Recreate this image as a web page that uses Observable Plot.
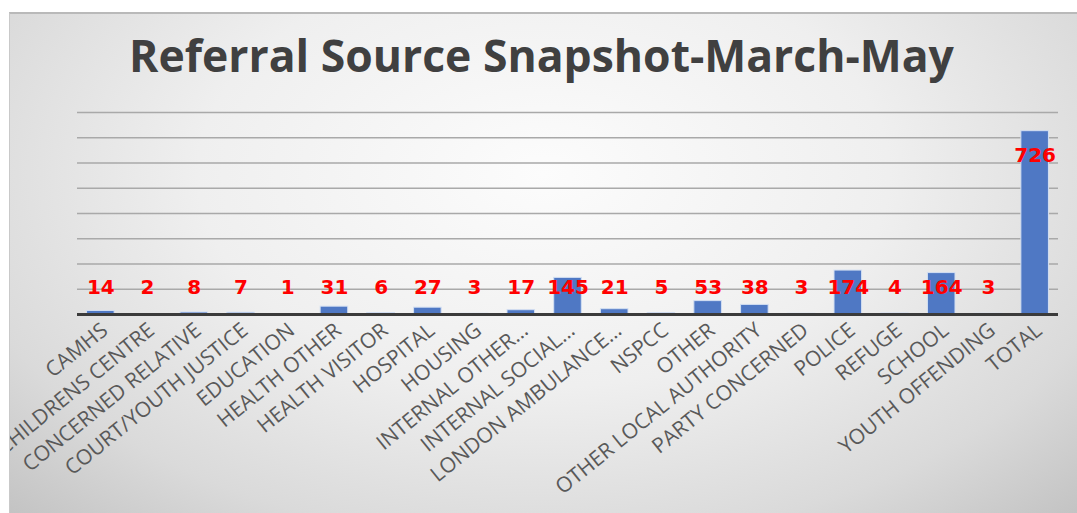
<!DOCTYPE html>
<html>
<head>
<meta charset="utf-8">
<script src="https://cdn.jsdelivr.net/npm/d3@7"></script>
<script src="https://cdn.jsdelivr.net/npm/@observablehq/plot@0.6"></script>
<style>
  html, body { margin: 0; padding: 0; background: #ffffff; width: 1077px; height: 513px; overflow: hidden; }
  #frame {
    position: absolute; left: 9px; top: 12px; width: 1068px; height: 501px;
    overflow: hidden; box-sizing: border-box;
    border-top: 2px solid #b9b9b9; border-left: 1px solid #c9c9c9;
    background: radial-gradient(ellipse 72% 95% at 50% 32%, #fcfcfc 0%, #efefef 45%, #dadada 78%, #c3c3c3 100%);
  }
  #title {
    position: absolute; left: 0; width: 1063px; top: 19px; text-align: center;
    font-family: "Open Sans", sans-serif; font-weight: 700; font-size: 44.5px; line-height: 44.5px;
    color: #404040; white-space: nowrap;
  }
  #chart { position: absolute; left: 0; top: 76px; }
</style>
</head>
<body>
<div id="frame">
  <div id="title">Referral Source Snapshot-March-May</div>
  <div id="chart"></div>
</div>
<script>
const categories = [
  "CAMHS", "CHILDRENS CENTRE", "CONCERNED RELATIVE", "COURT/YOUTH JUSTICE", "EDUCATION",
  "HEALTH OTHER", "HEALTH VISITOR", "HOSPITAL", "HOUSING", "INTERNAL OTHER…",
  "INTERNAL SOCIAL…", "LONDON AMBULANCE…", "NSPCC", "OTHER", "OTHER LOCAL AUTHORITY",
  "PARTY CONCERNED", "POLICE", "REFUGE", "SCHOOL", "YOUTH OFFENDING", "TOTAL"
];
const referrals = [14, 2, 8, 7, 1, 31, 6, 27, 3, 17, 145, 21, 5, 53, 38, 3, 174, 4, 164, 3, 726];
const gridTicks = [100, 200, 300, 400, 500, 600, 700, 800];

const data = categories.map((c, i) => ({category: c, value: referrals[i]}));
const totalRows = data.filter(d => d.category === "TOTAL");
const otherRows = data.filter(d => d.category !== "TOTAL");

const labelStyle = {
  fill: "#ff0000", fontWeight: "bold", fontSize: 20, fontFamily: "DejaVu Sans",
  text: d => String(d.value)
};

const chart = Plot.plot({
  width: 1067,
  height: 423,
  marginLeft: 67,
  marginRight: 19,
  marginTop: 22,
  marginBottom: 199,
  style: {background: "transparent", overflow: "visible"},
  x: {domain: categories, paddingInner: 0.41, paddingOuter: 0.205, round: false, label: null, axis: null},
  y: {domain: [0, 800], axis: null},
  marks: [
    Plot.ruleY(gridTicks, {stroke: "#a9a9a9", strokeWidth: 1.3}),
    Plot.barY(data, {x: "category", y: "value", fill: "#4f78c4", stroke: "#d3dff2", strokeWidth: 1}),
    Plot.ruleY([0], {stroke: "#3b3b3b", strokeWidth: 3}),
    Plot.text(otherRows, {x: "category", frameAnchor: "bottom", dy: -21, ...labelStyle}),
    Plot.text(totalRows, {x: "category", y: "value", dy: 24, ...labelStyle}),
    Plot.axisX({
      tickRotate: -39, tickSize: 0, tickPadding: 13, dx: 4, fontSize: 21,
      fill: "#595959", fontFamily: "Open Sans", label: null
    })
  ]
});
document.getElementById("chart").appendChild(chart);
</script>
</body>
</html>
